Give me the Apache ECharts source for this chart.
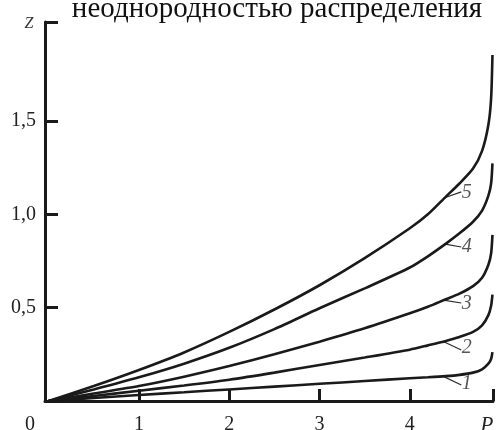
<!DOCTYPE html>
<html>
<head>
<meta charset="utf-8">
<script src="https://cdn.jsdelivr.net/npm/echarts@6/dist/echarts.min.js"></script>
<style>
html,body{margin:0;padding:0;background:#fff;}
#c{width:497px;height:430px;}
</style>
</head>
<body>
<div id="c"></div>
<script>
// ---- data ----
var xTicks = [1, 2, 3, 4];
var yTicks = [0.5, 1.0, 1.5];
var xMax = 4.921;
var yMax = 2.03;
var pValues = [0, 0.5, 1, 1.5, 2, 2.5, 3, 3.5, 4, 4.2, 4.4, 4.55, 4.7, 4.8, 4.87, 4.9, 4.915];
var curve1 = [0, 0.016, 0.032, 0.047, 0.062, 0.077, 0.092, 0.107, 0.122, 0.127, 0.133, 0.14, 0.152, 0.17, 0.2, 0.225, 0.262];
var curve2 = [0, 0.027, 0.055, 0.083, 0.114, 0.152, 0.193, 0.233, 0.275, 0.298, 0.322, 0.343, 0.37, 0.405, 0.46, 0.51, 0.57];
var curve3 = [0, 0.04, 0.08, 0.13, 0.187, 0.25, 0.318, 0.39, 0.47, 0.505, 0.545, 0.575, 0.615, 0.66, 0.73, 0.79, 0.89];
var curve4 = [0, 0.062, 0.127, 0.2, 0.285, 0.385, 0.497, 0.603, 0.715, 0.775, 0.843, 0.898, 0.96, 1.02, 1.1, 1.165, 1.273];
var curve5 = [0, 0.08, 0.166, 0.26, 0.37, 0.49, 0.62, 0.765, 0.925, 1.0, 1.095, 1.165, 1.245, 1.34, 1.48, 1.62, 1.853];
var curveLabels = ['1', '2', '3', '4', '5'];
var labelPos = [[4.63,0.091],[4.63,0.284],[4.63,0.52],[4.63,0.825],[4.63,1.114]];
var leaders = [
  [[4.37,0.132],[4.57,0.086]],
  [[4.37,0.319],[4.57,0.273]],
  [[4.37,0.54],[4.57,0.525]],
  [[4.39,0.84],[4.57,0.825]],
  [[4.37,1.086],[4.57,1.12]]
];
var titleText = 'неоднородностью распределения';

// ---- chart ----
var chart = echarts.init(document.getElementById('c'), null, {renderer: 'canvas'});
var serif = '"Liberation Serif", "Times New Roman", serif';
var ink = '#1a1a1a';
var curves = [curve1, curve2, curve3, curve4, curve5];
var series = curves.map(function (vals) {
  return {
    type: 'line',
    data: vals.map(function (v, i) { return [pValues[i], v]; }),
    smooth: 0.25, symbol: 'none', clip: false,
    lineStyle: {color: ink, width: 2.6}, silent: true
  };
});
series.push({
  type: 'lines', coordinateSystem: 'cartesian2d', silent: true,
  data: leaders.map(function (c) { return {coords: c}; }),
  lineStyle: {color: '#2a2a2a', width: 1.2, opacity: 1}
});
series.push({
  type: 'scatter', symbolSize: 0, silent: true,
  data: labelPos.map(function (p, i) { return [p[0], p[1], curveLabels[i]]; }),
  label: {show: true, position: 'inside', formatter: function (p) { return p.value[2]; },
    fontFamily: serif, fontStyle: 'italic', fontSize: 20, color: '#2a2a2a'}
});

chart.setOption({
  animation: false,
  grid: {left: 45, right: 4, top: 22, bottom: 29, containLabel: false, outerBoundsMode: 'none'},
  xAxis: {
    type: 'value', min: -0.04, max: xMax,
    splitLine: {show: false},
    axisLine: {onZero: false, lineStyle: {color: ink, width: 3}},
    axisTick: {inside: true, length: 12, lineStyle: {color: ink, width: 3},
      customValues: xTicks.concat([xMax])},
    axisLabel: {
      customValues: [0].concat(xTicks).concat([xMax]),
      showMaxLabel: true, showMinLabel: true, hideOverlap: false,
      margin: 14, color: '#222', fontFamily: serif, fontSize: 20,
      formatter: function (v) {
        if (v === 0) return '{z|0}';
        if (Math.abs(v - xMax) < 1e-6) return '{p|P}';
        return String(v);
      },
      rich: {
        z: {padding: [0, 37, 0, 0], fontFamily: serif, fontSize: 20, color: '#222'},
        p: {fontStyle: 'italic', fontFamily: serif, fontSize: 21, color: '#222', padding: [0, 12, 4, 0]}
      }
    }
  },
  yAxis: {
    type: 'value', min: 0, max: yMax,
    splitLine: {show: false},
    axisLine: {onZero: false, lineStyle: {color: ink, width: 3}},
    axisTick: {inside: true, length: 13, lineStyle: {color: ink, width: 3},
      customValues: yTicks.concat([yMax])},
    axisLabel: {
      customValues: yTicks, margin: 9, color: '#222', fontFamily: serif, fontSize: 20,
      formatter: function (v) { return v.toFixed(1).replace('.', ','); }
    }
  },
  graphic: [
    {type: 'text', x: 277, y: -5, style: {text: titleText, font: '29px ' + serif, fill: '#111', textAlign: 'center', textVerticalAlign: 'top'}},
    {type: 'text', x: 29, y: 24, style: {text: 'Z', font: 'italic 16px ' + serif, fill: '#333', textAlign: 'center', textVerticalAlign: 'middle'}}
  ],
  series: series
});
</script>
</body>
</html>
